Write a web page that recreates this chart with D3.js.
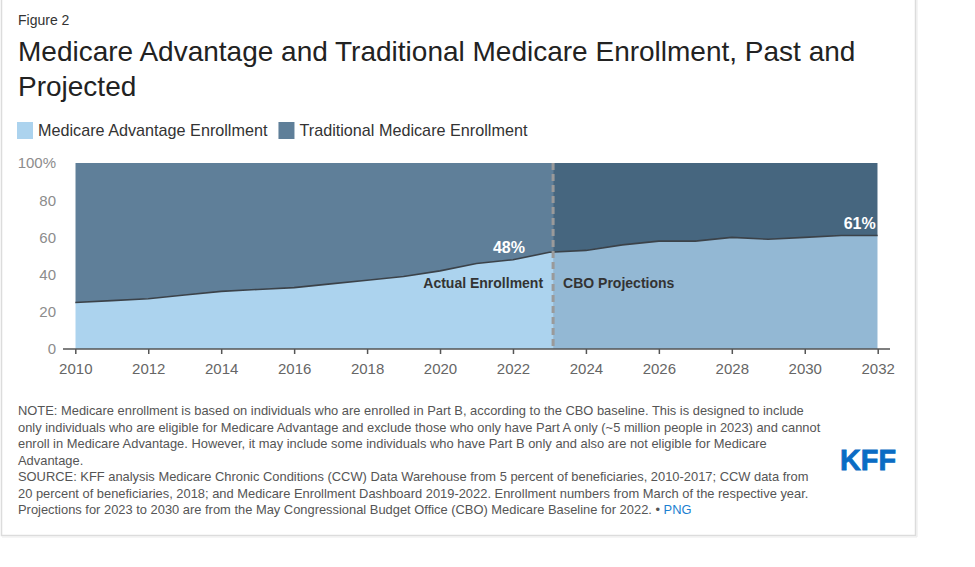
<!DOCTYPE html>
<html><head><meta charset="utf-8">
<script src="https://cdn.jsdelivr.net/npm/d3@7"></script>
<style>
html,body{margin:0;padding:0;background:#fff;}
svg{display:block;font-family:"Liberation Sans",Arial,sans-serif;}
</style></head>
<body>
<svg id="chart" width="975" height="567"></svg>
<script>
// ---- data ----
const years = [2010,2011,2012,2013,2014,2015,2016,2017,2018,2019,2020,2021,2022,2023,2024,2025,2026,2027,2028,2029,2030,2031,2032];
const maShare = [25,26,27,29,31,32,33,35,37,39,42,46,48,52,53,56,58,58,60,59,60,61,61];
const splitYear = 2023.1;
const yTicks = [0,20,40,60,80,100];
const xTicks = [2010,2012,2014,2016,2018,2020,2022,2024,2026,2028,2030,2032];
const seriesNames = ["Medicare Advantage Enrollment","Traditional Medicare Enrollment"];
const labels = [{year:2022, value:48, text:"48%"},{year:2032, value:61, text:"61%"}];
const noteLines = [
 "NOTE: Medicare enrollment is based on individuals who are enrolled in Part B, according to the CBO baseline. This is designed to include",
 "only individuals who are eligible for Medicare Advantage and exclude those who only have Part A only (~5 million people in 2023) and cannot",
 "enroll in Medicare Advantage. However, it may include some individuals who have Part B only and also are not eligible for Medicare",
 "Advantage.",
 "SOURCE: KFF analysis Medicare Chronic Conditions (CCW) Data Warehouse from 5 percent of beneficiaries, 2010-2017; CCW data from",
 "20 percent of beneficiaries, 2018; and Medicare Enrollment Dashboard 2019-2022. Enrollment numbers from March of the respective year.",
 "Projections for 2023 to 2030 are from the May Congressional Budget Office (CBO) Medicare Baseline for 2022. \u2022 "
];

const data = years.map((y,i)=>({year:y, ma:maShare[i]}));
const svg = d3.select("#chart");

// card frame
svg.append("rect").attr("x",1.5).attr("y",-2).attr("width",914).attr("height",537.5)
  .attr("fill","#fff").attr("stroke","#dcdcdc").attr("stroke-width",1.5);
svg.append("line").attr("x1",917).attr("x2",917).attr("y1",0).attr("y2",537).attr("stroke","#ececec").attr("stroke-width",1.2);
svg.append("line").attr("x1",2).attr("x2",917).attr("y1",537).attr("y2",537).attr("stroke","#ececec").attr("stroke-width",1.2);

// titles
svg.append("text").attr("x",18).attr("y",25).attr("font-size",14).attr("fill","#333").text("Figure 2");
svg.append("text").attr("x",18).attr("y",61).attr("font-size",28).attr("fill","#222").text("Medicare Advantage and Traditional Medicare Enrollment, Past and");
svg.append("text").attr("x",18).attr("y",96).attr("font-size",28).attr("fill","#222").text("Projected");

// legend
const legColors = ["#acd3ee","#5f7f99"];
const leg = svg.append("g");
let lx = 17;
seriesNames.forEach((n,i)=>{
  leg.append("rect").attr("x",lx).attr("y",122).attr("width",16).attr("height",17).attr("fill",legColors[i]);
  const t = leg.append("text").attr("x",lx+21).attr("y",136).attr("font-size",16.2).attr("fill","#333").text(n);
  lx += 21 + t.node().getComputedTextLength() + 11;
});

// scales
const x = d3.scaleLinear().domain([2010,2032]).range([75.3,877.7]);
const y = d3.scaleLinear().domain([0,100]).range([349,163]);

const areaMA = d3.area().x(d=>x(d.year)).y0(y(0)).y1(d=>y(d.ma));
const areaTM = d3.area().x(d=>x(d.year)).y0(d=>y(d.ma)).y1(y(100));
const line = d3.line().x(d=>x(d.year)).y(d=>y(d.ma));

const defs = svg.append("defs");
defs.append("clipPath").attr("id","cA").append("rect")
  .attr("x",x(2010)).attr("y",y(100)).attr("width",x(splitYear)-x(2010)).attr("height",y(0)-y(100));
defs.append("clipPath").attr("id","cP").append("rect")
  .attr("x",x(splitYear)).attr("y",y(100)).attr("width",x(2032)-x(splitYear)).attr("height",y(0)-y(100));

const gA = svg.append("g").attr("clip-path","url(#cA)");
gA.append("path").datum(data).attr("d",areaTM).attr("fill","#5f7f99");
gA.append("path").datum(data).attr("d",areaMA).attr("fill","#acd3ee");
const gP = svg.append("g").attr("clip-path","url(#cP)");
gP.append("path").datum(data).attr("d",areaTM).attr("fill","#46667f");
gP.append("path").datum(data).attr("d",areaMA).attr("fill","#93b8d4");

svg.append("path").datum(data).attr("d",line).attr("fill","none").attr("stroke","#3b4249").attr("stroke-width",1.6);

// divider
svg.append("line").attr("x1",x(splitYear)).attr("x2",x(splitYear)).attr("y1",y(100)).attr("y2",y(0))
  .attr("stroke","#9a9a9a").attr("stroke-width",3).attr("stroke-dasharray","7,4");

// axes
svg.append("line").attr("x1",63).attr("x2",890).attr("y1",349).attr("y2",349).attr("stroke","#555").attr("stroke-width",1.5);
const xg = svg.append("g").attr("transform","translate(0,349)")
  .call(d3.axisBottom(x).tickValues(xTicks).tickFormat(d3.format("d")).tickSize(5).tickPadding(9));
xg.select(".domain").remove();
xg.selectAll("line").attr("stroke","#555").attr("stroke-width",1.5);
xg.selectAll("text").attr("font-size",15).attr("fill","#666").attr("font-family","Liberation Sans, Arial, sans-serif");

const yg = svg.append("g").attr("transform","translate(63,0)")
  .call(d3.axisLeft(y).tickValues(yTicks).tickFormat(d=>d===100?"100%":d).tickSize(0).tickPadding(7));
yg.select(".domain").remove();
yg.selectAll("text").attr("font-size",15).attr("fill","#8c8c8c").attr("font-family","Liberation Sans, Arial, sans-serif");

// annotations
svg.append("text").attr("x",x(splitYear)-10).attr("y",288).attr("text-anchor","end")
  .attr("font-size",14).attr("font-weight","bold").attr("fill","#333").text("Actual Enrollment");
svg.append("text").attr("x",x(splitYear)+10).attr("y",288).attr("text-anchor","start")
  .attr("font-size",14).attr("font-weight","bold").attr("fill","#333").text("CBO Projections");
svg.append("text").attr("x",x(labels[0].year)-4).attr("y",y(labels[0].value)-7).attr("text-anchor","middle")
  .attr("font-size",16).attr("font-weight","bold").attr("fill","#fff").text(labels[0].text);
svg.append("text").attr("x",x(labels[1].year)-2).attr("y",y(labels[1].value)-7).attr("text-anchor","end")
  .attr("font-size",16).attr("font-weight","bold").attr("fill","#fff").text(labels[1].text);

// notes
const ng = svg.append("g");
noteLines.forEach((l,i)=>{
  const t = ng.append("text").attr("x",18).attr("y",415+i*16.5).attr("font-size",12.9).attr("fill","#555").text(l);
  if(i===noteLines.length-1){ t.append("tspan").attr("fill","#1b7fd1").text("PNG"); }
});

// logo
svg.append("text").attr("x",840).attr("y",470).attr("font-size",29).attr("font-weight","bold")
  .attr("fill","#0a6cc4").attr("stroke","#0a6cc4").attr("stroke-width",0.8)
  .attr("textLength",56).attr("lengthAdjust","spacingAndGlyphs").text("KFF");
</script>
</body></html>
